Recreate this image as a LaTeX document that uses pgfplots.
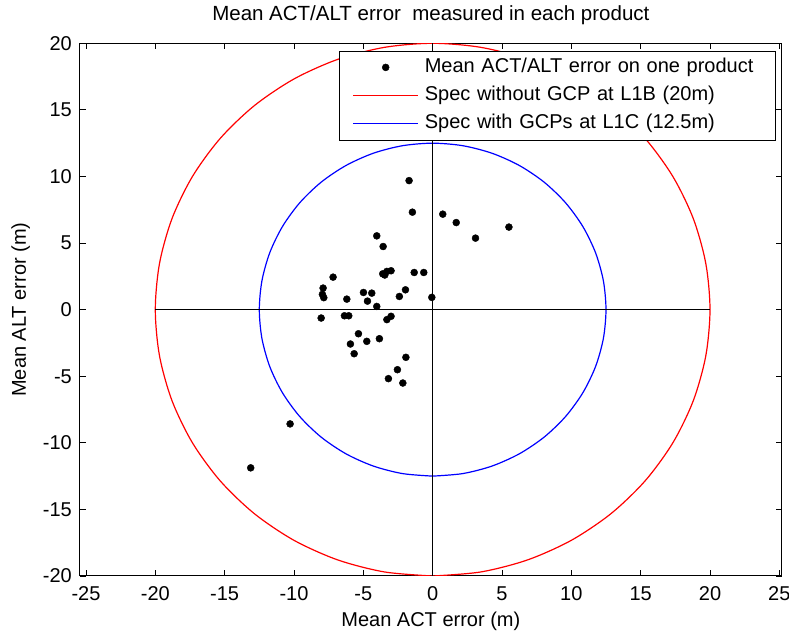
\documentclass[border=0pt]{standalone}
\usepackage{fontspec}
\setmainfont{Liberation Sans}
\usepackage{pgfplots}
\pgfplotsset{compat=1.18}
\usetikzlibrary{calc}
\begin{document}
\fontsize{20}{24}\selectfont
\begin{tikzpicture}
\begin{axis}[
  scale only axis, width=701.7pt, height=532.7pt,
  xmin=-25.43, xmax=25.17, ymin=-20, ymax=20,
  xtick={-25,-20,...,25}, ytick={-20,-15,...,20},
  tick align=inside, major tick length=6pt,
  axis line style={black, line width=1pt},
  tick style={black, line width=0.9pt},
  /pgf/number format/assume math mode=true,
  ticklabel style={font=\fontsize{20}{24}\selectfont},
  xticklabel style={anchor=base, yshift=-25pt},
  yticklabel style={anchor=east, inner sep=0pt, xshift=-8pt},
  title={Mean ACT/ALT error\ \ measured in each product},
  title style={at={(axis description cs:0.5,1)}, anchor=base, yshift=17pt, font=\fontsize{20.5}{24}\selectfont},
  xlabel={Mean ACT error (m)},
  xlabel style={at={(axis description cs:0.5,0)}, anchor=base, yshift=-50.7pt, font=\fontsize{20}{24}\selectfont},
  ylabel={Mean ALT error (m)},
  ylabel style={at={(axis description cs:-0.07696,0.5)}, anchor=base, rotate=0, font=\fontsize{20}{24}\selectfont},
  legend style={at={(axis description cs:1,1)}, anchor=north east, xshift=-6.7pt, yshift=-7.4pt,
    fill=white, font=\fontsize{20}{24}\selectfont,
    inner xsep=13pt, inner ysep=5pt, row sep=5pt,
    nodes={inner xsep=6pt, inner ysep=2pt, text height=14.5pt, text depth=4.5pt, text width=331pt}},
  legend cell align=left,
  legend image code/.code={\draw[mark repeat=2,mark phase=2,#1] plot coordinates {(0pt,0pt)(32.5pt,0pt)(65pt,0pt)};},
]
\addplot[only marks, mark=*, mark size=3.5pt, black] coordinates {
(-1.70,9.69) (-1.46,7.32) (0.73,7.17) (1.70,6.54) (3.09,5.37) (5.50,6.20)
(-4.03,5.54) (-3.57,4.74) (-3.60,2.69) (-3.30,2.87) (-3.00,2.92) (-3.45,2.60)
(-1.33,2.79) (-0.64,2.79) (-7.18,2.44) (-7.90,1.62) (-7.95,1.15) (-7.85,0.90)
(-6.19,0.79) (-4.99,1.29) (-4.39,1.24) (-4.70,0.64) (-4.03,0.24) (-2.40,0.99)
(-1.96,1.49) (-0.06,0.92) (-8.04,-0.63) (-6.36,-0.46) (-6.05,-0.46) (-3.30,-0.75)
(-3.00,-0.50) (-5.35,-1.81) (-3.84,-2.18) (-4.75,-2.38) (-5.93,-2.58) (-5.66,-3.31)
(-1.93,-3.58) (-2.54,-4.51) (-3.19,-5.18) (-2.15,-5.51) (-10.28,-8.58) (-13.12,-11.88)
};
\addlegendentry{Mean ACT/ALT error on one product}
\addplot[red, line width=1.2pt, smooth, mark=none] coordinates {
(0,-20) (3.473,-19.696) (6.840,-18.794) (10,-17.321) (12.856,-15.321) (15.321,-12.856)
(17.321,-10) (18.794,-6.840) (19.696,-3.473) (20,0) (19.696,3.473) (18.794,6.840)
(17.321,10) (15.321,12.856) (12.856,15.321) (10,17.321) (6.840,18.794) (3.473,19.696)
(0,20) (-3.473,19.696) (-6.840,18.794) (-10,17.321) (-12.856,15.321) (-15.321,12.856)
(-17.321,10) (-18.794,6.840) (-19.696,3.473) (-20,0) (-19.696,-3.473) (-18.794,-6.840)
(-17.321,-10) (-15.321,-12.856) (-12.856,-15.321) (-10,-17.321) (-6.840,-18.794) (-3.473,-19.696)
(0,-20)
};
\addlegendentry{Spec without GCP at L1B (20m)}
\addplot[blue, line width=1.2pt, smooth, mark=none] coordinates {
(0,-12.5) (2.171,-12.310) (4.275,-11.746) (6.25,-10.825) (8.035,-9.576) (9.576,-8.035)
(10.825,-6.25) (11.746,-4.275) (12.310,-2.171) (12.5,0) (12.310,2.171) (11.746,4.275)
(10.825,6.25) (9.576,8.035) (8.035,9.576) (6.25,10.825) (4.275,11.746) (2.171,12.310)
(0,12.5) (-2.171,12.310) (-4.275,11.746) (-6.25,10.825) (-8.035,9.576) (-9.576,8.035)
(-10.825,6.25) (-11.746,4.275) (-12.310,2.171) (-12.5,0) (-12.310,-2.171) (-11.746,-4.275)
(-10.825,-6.25) (-9.576,-8.035) (-8.035,-9.576) (-6.25,-10.825) (-4.275,-11.746) (-2.171,-12.310)
(0,-12.5)
};
\addlegendentry{Spec with GCPs at L1C (12.5m)}
\addplot[black, line width=1.2pt, forget plot] coordinates {(-20,0) (20,0)};
\addplot[black, line width=1.2pt, forget plot] coordinates {(0,-20) (0,20)};
\end{axis}
\pgfresetboundingbox
\path ($(current axis.south west)+(-80pt,-56pt)$) rectangle ($(current axis.north east)+(7.3pt,43.3pt)$);
\end{tikzpicture}
\end{document}
